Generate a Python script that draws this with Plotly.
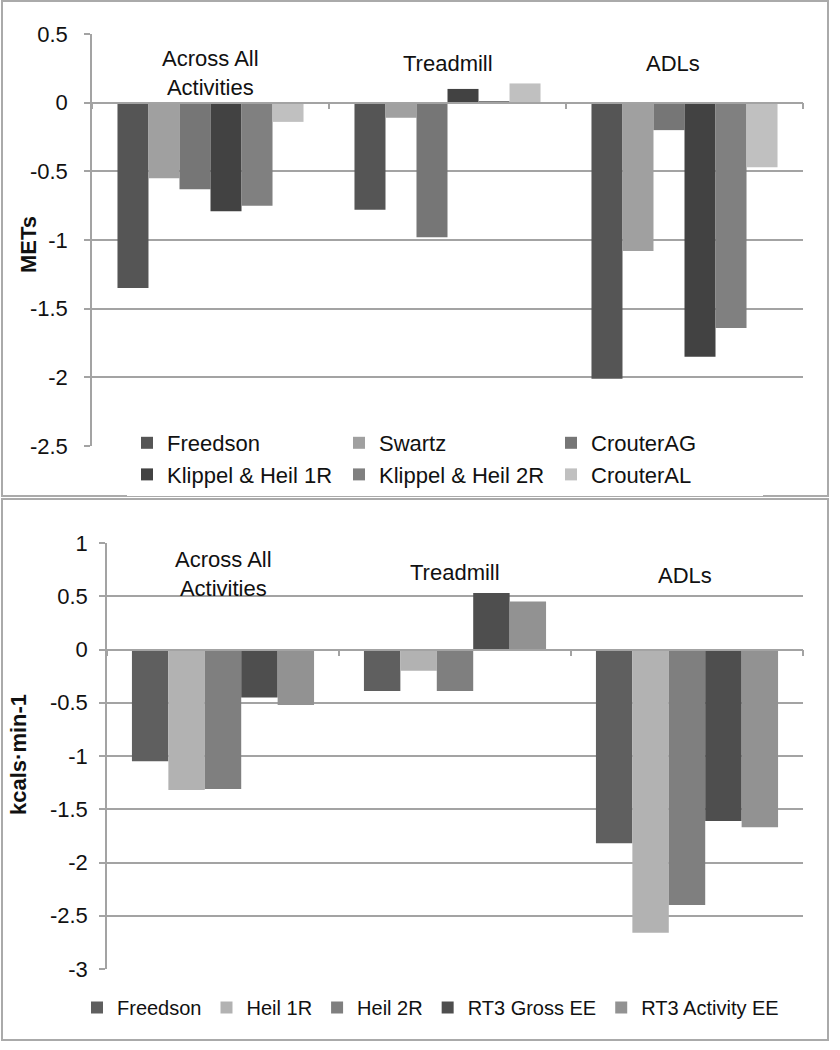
import plotly.graph_objects as go

W, H = 840, 1050

categories = ["Across All Activities", "Treadmill", "ADLs"]

# Top panel: METs
met_names = ["Freedson", "Swartz", "CrouterAG", "Klippel & Heil 1R", "Klippel & Heil 2R", "CrouterAL"]
met_freedson = [-1.35, -0.78, -2.01]
met_swartz = [-0.55, -0.11, -1.08]
met_crouter_ag = [-0.63, -0.98, -0.20]
met_klippel_1r = [-0.79, 0.10, -1.85]
met_klippel_2r = [-0.75, 0.005, -1.64]
met_crouter_al = [-0.14, 0.14, -0.47]
met_colors = ["#555555", "#a0a0a0", "#767676", "#424242", "#808080", "#c0c0c0"]
met_tickvals = [0.5, 0, -0.5, -1, -1.5, -2, -2.5]
met_ticktext = ["0.5", "0", "-0.5", "-1", "-1.5", "-2", "-2.5"]

# Bottom panel: kcals/min
kcal_names = ["Freedson", "Heil 1R", "Heil 2R", "RT3 Gross EE", "RT3 Activity EE"]
kcal_freedson = [-1.05, -0.39, -1.82]
kcal_heil_1r = [-1.32, -0.20, -2.66]
kcal_heil_2r = [-1.31, -0.39, -2.40]
kcal_rt3_gross = [-0.45, 0.53, -1.61]
kcal_rt3_activity = [-0.52, 0.45, -1.67]
kcal_colors = ["#5f5f5f", "#b2b2b2", "#7f7f7f", "#4e4e4e", "#929292"]
kcal_tickvals = [1, 0.5, 0, -0.5, -1, -1.5, -2, -2.5, -3]
kcal_ticktext = ["1", "0.5", "0", "-0.5", "-1", "-1.5", "-2", "-2.5", "-3"]

FONT = "Arial, Liberation Sans, sans-serif"
GRID = "#a3a3a3"


def px_x(p):
    return p / W


def px_y(p):
    return 1 - p / H


met_values = [met_freedson, met_swartz, met_crouter_ag, met_klippel_1r, met_klippel_2r, met_crouter_al]
kcal_values = [kcal_freedson, kcal_heil_1r, kcal_heil_2r, kcal_rt3_gross, kcal_rt3_activity]

fig = go.Figure()
for name, vals, col in zip(met_names, met_values, met_colors):
    fig.add_trace(go.Bar(x=categories, y=vals, name=name, marker=dict(color=col, line=dict(width=0)),
                         xaxis="x", yaxis="y", legend="legend"))
for name, vals, col in zip(kcal_names, kcal_values, kcal_colors):
    fig.add_trace(go.Bar(x=categories, y=vals, name=name, marker=dict(color=col, line=dict(width=0)),
                         xaxis="x2", yaxis="y2", legend="legend2"))

top_ydom = [px_y(446), px_y(34)]
bot_ydom = [px_y(969), px_y(543)]
top_range = [-2.5, 0.5]
bot_range = [-3, 1]


def zero_pos(dom, rng):
    return dom[0] + (0 - rng[0]) / (rng[1] - rng[0]) * (dom[1] - dom[0])


yax_common = dict(showline=True, linecolor=GRID, linewidth=1.5, ticks="outside", ticklen=6,
                  tickcolor=GRID, tickwidth=1.5, showgrid=True, gridcolor=GRID, gridwidth=1.5,
                  zeroline=False, automargin=False, tickfont=dict(family=FONT, size=22, color="#111111"))
xax_common = dict(type="category", showline=True, linecolor=GRID, linewidth=1.5, ticks="outside",
                  tickson="boundaries", ticklen=6, tickcolor=GRID, tickwidth=1.5, showgrid=False,
                  showticklabels=False, zeroline=False, anchor="free", automargin=False)

fig.update_layout(
    width=W, height=H, margin=dict(l=0, r=0, t=0, b=0, pad=0), autosize=False,
    paper_bgcolor="white", plot_bgcolor="white",
    barmode="group", bargroupgap=0, bargap=0.215,
    font=dict(family=FONT, size=22, color="#111111"),
    xaxis=dict(domain=[px_x(92), px_x(803)], position=zero_pos(top_ydom, top_range), **xax_common),
    yaxis=dict(domain=top_ydom, range=top_range, anchor="x", tickvals=met_tickvals,
               ticktext=met_ticktext, ticklabelstandoff=12, **yax_common),
    xaxis2=dict(domain=[px_x(107), px_x(803)], position=zero_pos(bot_ydom, bot_range), **xax_common),
    yaxis2=dict(domain=bot_ydom, range=bot_range, anchor="x2", tickvals=kcal_tickvals,
                ticktext=kcal_ticktext, ticklabelstandoff=7, **yax_common),
    legend=dict(orientation="h", x=px_x(127), xanchor="left", y=px_y(422), yanchor="top",
                bgcolor="white", entrywidth=167, font=dict(family=FONT, size=22, color="#111111"),
                traceorder="normal"),
    legend2=dict(orientation="h", x=px_x(77), xanchor="left", y=px_y(988), yanchor="top",
                 bgcolor="rgba(0,0,0,0)", font=dict(family=FONT, size=20, color="#111111"),
                 traceorder="normal"),
    showlegend=True,
)

# panel frames
fig.add_shape(type="rect", xref="paper", yref="paper", x0=px_x(2), x1=px_x(828), y0=px_y(496), y1=px_y(1),
              line=dict(color="#aaaaaa", width=2), layer="below")
fig.add_shape(type="rect", xref="paper", yref="paper", x0=px_x(2), x1=px_x(828), y0=px_y(1040), y1=px_y(499),
              line=dict(color="#aaaaaa", width=2), layer="below")

afont = dict(family=FONT, size=22, color="#111111")
fig.add_annotation(x=categories[0], xref="x", y=px_y(73), yref="paper", text="Across All<br>Activities",
                   showarrow=False, font=afont, xanchor="center", yanchor="middle")
fig.add_annotation(x=categories[1], xref="x", y=px_y(63), yref="paper", text="Treadmill",
                   showarrow=False, font=afont, xanchor="center", yanchor="middle")
fig.add_annotation(x=categories[2], xref="x", y=px_y(63), yref="paper", text="ADLs",
                   showarrow=False, font=afont, xanchor="center", yanchor="middle", xshift=-12)
fig.add_annotation(x=categories[0], xref="x2", y=px_y(574), yref="paper", text="Across All<br>Activities",
                   showarrow=False, font=afont, xanchor="center", yanchor="middle")
fig.add_annotation(x=categories[1], xref="x2", y=px_y(572), yref="paper", text="Treadmill",
                   showarrow=False, font=afont, xanchor="center", yanchor="middle")
fig.add_annotation(x=categories[2], xref="x2", y=px_y(575), yref="paper", text="ADLs",
                   showarrow=False, font=afont, xanchor="center", yanchor="middle", xshift=-2)

tfont = dict(family=FONT, size=22, color="#111111")
fig.add_annotation(x=px_x(28), xref="paper", y=px_y(245), yref="paper", text="<b>METs</b>",
                   textangle=-90, showarrow=False, font=tfont, xanchor="center", yanchor="middle")
fig.add_annotation(x=px_x(18), xref="paper", y=px_y(755), yref="paper", text="<b>kcals·min-1</b>",
                   textangle=-90, showarrow=False, font=tfont, xanchor="center", yanchor="middle")

fig.write_html("out.html", config={"displayModeBar": False},
               post_script="document.body.style.margin='0';document.body.style.overflow='hidden';")
